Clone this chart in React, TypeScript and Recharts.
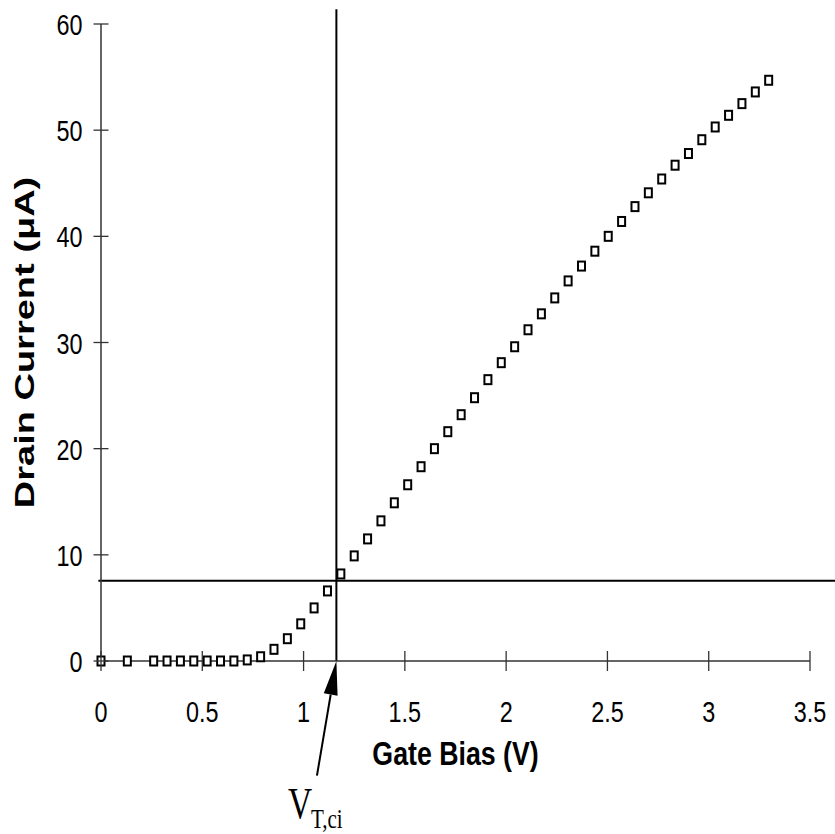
import React from 'react';
import { ScatterChart, Scatter, XAxis, YAxis, ReferenceLine } from 'recharts';

// gate bias sweep (V) and measured drain current (uA)
const gateBias = [
  0, 0.13, 0.26, 0.326, 0.392, 0.458, 0.524, 0.59, 0.656, 0.722, 0.788, 0.854, 0.92, 0.986,
  1.052, 1.118, 1.184, 1.25, 1.316, 1.382, 1.448, 1.514, 1.58, 1.646, 1.712, 1.778, 1.844,
  1.91, 1.976, 2.042, 2.108, 2.174, 2.24, 2.306, 2.372, 2.438, 2.504, 2.57, 2.636, 2.702,
  2.768, 2.834, 2.9, 2.966, 3.032, 3.098, 3.164, 3.23, 3.296,
];
const drainCurrent = [
  0, 0, 0, 0, 0, 0, 0, 0, 0, 0.1, 0.4, 1.1, 2.1, 3.5,
  5.0, 6.6, 8.2, 9.9, 11.5, 13.2, 14.9, 16.6, 18.3, 20.0, 21.6, 23.2, 24.8,
  26.5, 28.1, 29.6, 31.2, 32.7, 34.2, 35.8, 37.2, 38.6, 40.0, 41.4, 42.8, 44.1,
  45.4, 46.7, 47.8, 49.1, 50.3, 51.4, 52.5, 53.6, 54.7,
];

const xTicks = [0, 0.5, 1, 1.5, 2, 2.5, 3, 3.5];
const yTicks = [0, 10, 20, 30, 40, 50, 60];

// threshold construction
const thresholdV = 1.162;
const thresholdI = 7.55;
const arrowTail = { x: 1.066, y: -10.8 };

const points = gateBias.map((v, i) => ({ v, i: drainCurrent[i] }));

const SANS = 'Liberation Sans, Arial, sans-serif';
const SERIF = 'Liberation Serif, Times New Roman, serif';
const SQUEEZE = 0.78;

const SquareMarker = (props: any) => {
  const { cx, cy } = props;
  return <rect x={cx - 3.5} y={cy - 4.5} width={7} height={9} fill="#fff" stroke="#000" strokeWidth={2} />;
};

const XTick = ({ x, y, payload }: any) => (
  <g>
    <line x1={x} x2={x} y1={y - 10} y2={y + 10} stroke="#333" strokeWidth={1.3} />
    <text transform={`translate(${x},${y + 61}) scale(${SQUEEZE},1)`} textAnchor="middle" fontSize={30} fontFamily={SANS} fill="#000">
      {payload.value}
    </text>
  </g>
);

const YTick = ({ x, y, payload }: any) => (
  <g>
    <line x1={x - 7.5} x2={x + 7.5} y1={y} y2={y} stroke="#333" strokeWidth={1.3} />
    <text transform={`translate(${x - 18.5},${y + 11}) scale(${SQUEEZE},1)`} textAnchor="end" fontSize={30} fontFamily={SANS} fill="#000">
      {payload.value}
    </text>
  </g>
);

const XTitle = ({ viewBox }: any) => (
  <text
    transform={`translate(${viewBox.x + viewBox.width / 2},${viewBox.y + 104}) scale(0.81,1)`}
    textAnchor="middle" fontSize={33} fontWeight="bold" fontFamily={SANS} fill="#000"
  >
    Gate Bias (V)
  </text>
);

const YTitle = ({ viewBox }: any) => (
  <text
    transform={`translate(34,${viewBox.y + viewBox.height / 2}) scale(0.72,1) rotate(-90)`}
    textAnchor="middle" fontSize={38} fontWeight="bold" fontFamily={SANS} fill="#000"
  >
    Drain Current (μA)
  </text>
);

// arrow from the label up to the threshold point, label drawn at the tail
const ArrowShape = (props: any) => {
  const { x1, y1, x2, y2 } = props;
  const dx = x2 - x1;
  const dy = y2 - y1;
  const len = Math.sqrt(dx * dx + dy * dy);
  const ux = dx / len;
  const uy = dy / len;
  const bx = x2 - ux * 34;
  const by = y2 - uy * 34;
  const nx = -uy * 7;
  const ny = ux * 7;
  return (
    <g>
      <line x1={x1} y1={y1} x2={bx} y2={by} stroke="#000" strokeWidth={2} />
      <polygon points={`${x2},${y2} ${bx + nx},${by + ny} ${bx - nx},${by - ny}`} fill="#000" />
      <text transform={`translate(${x1 - 29},${y1 + 42}) scale(0.76,1)`} fontSize={44} fontFamily={SERIF} fill="#000">V</text>
      <text transform={`translate(${x1 - 6},${y1 + 52}) scale(0.78,1)`} fontSize={27} fontFamily={SERIF} fill="#000">T,ci</text>
    </g>
  );
};

export default function App() {
  return (
    <div style={{ position: 'absolute', left: 0, top: 0, width: 835, height: 834, background: '#fff' }}>
      <ScatterChart width={835} height={834} margin={{ top: 24, right: 25, bottom: 0, left: 0 }}>
        <XAxis
          type="number"
          dataKey="v"
          domain={[0, 3.5]}
          ticks={xTicks}
          interval={0}
          height={173}
          tickSize={0}
          tickMargin={0}
          tickLine={false}
          axisLine={{ stroke: '#333', strokeWidth: 1.5 }}
          tick={<XTick />}
          label={{ content: XTitle }}
        />
        <YAxis
          type="number"
          dataKey="i"
          domain={[0, 60]}
          ticks={yTicks}
          interval={0}
          width={101}
          tickSize={0}
          tickMargin={0}
          tickLine={false}
          axisLine={{ stroke: '#333', strokeWidth: 1.5 }}
          tick={<YTick />}
          label={{ content: YTitle }}
        />
        <ReferenceLine
          segment={[{ x: thresholdV, y: 0 }, { x: thresholdV, y: 61.4 }]}
          ifOverflow="visible"
          stroke="#000"
          strokeWidth={2}
        />
        <ReferenceLine
          segment={[{ x: -0.013, y: thresholdI }, { x: 3.625, y: thresholdI }]}
          ifOverflow="visible"
          stroke="#000"
          strokeWidth={2}
        />
        <ReferenceLine
          segment={[arrowTail, { x: thresholdV, y: 0 }]}
          ifOverflow="visible"
          shape={ArrowShape}
        />
        <Scatter data={points} shape={SquareMarker} isAnimationActive={false} />
      </ScatterChart>
    </div>
  );
}
